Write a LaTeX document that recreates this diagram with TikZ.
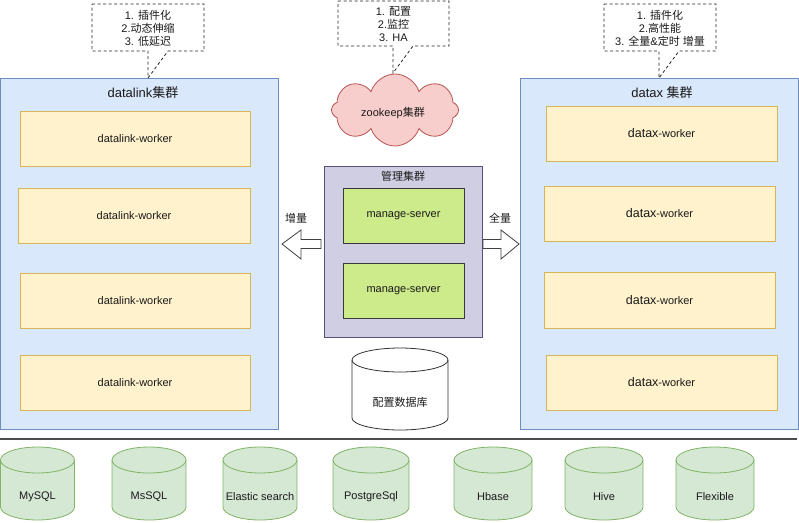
\documentclass[tikz,border=0pt]{standalone}
\usepackage{fontspec}
\setmainfont{Liberation Sans}
\newfontfamily\cjk{Noto Sans CJK SC}
\newcommand{\zh}[1]{{\cjk #1}}
\usetikzlibrary{shapes.symbols}
\definecolor{panelfill}{HTML}{DAE8FC}
\definecolor{panelline}{HTML}{6C8EBF}
\definecolor{workfill}{HTML}{FFF2CC}
\definecolor{workline}{HTML}{D6B656}
\definecolor{mgmtfill}{HTML}{D0CEE2}
\definecolor{mgmtline}{HTML}{56517E}
\definecolor{msfill}{HTML}{CDEB8B}
\definecolor{msline}{HTML}{36393D}
\definecolor{dbfill}{HTML}{D5E8D4}
\definecolor{dbline}{HTML}{82B366}
\definecolor{cloudfill}{HTML}{F8CECC}
\definecolor{cloudline}{HTML}{B85450}
\definecolor{txt}{HTML}{1A1A1A}
\newcommand{\mycyl}[7]{%
  % #1 cx, #2 top, #3 bottom, #4 rx, #5 ry, #6 fill, #7 line
  \path[fill=#6,draw=#7,line width=0.8pt]
    ({#1-#4},{#2+#5}) -- ({#1-#4},{#3-#5})
    arc[start angle=180,end angle=360,x radius=#4pt,y radius=#5pt]
    -- ({#1+#4},{#2+#5})
    arc[start angle=0,end angle=180,x radius=#4pt,y radius=#5pt] -- cycle;
  \draw[draw=#7,line width=0.8pt] ({#1-#4},{#2+#5})
    arc[start angle=180,end angle=360,x radius=#4pt,y radius=#5pt];
}
\tikzset{
  x=1pt,y=-1pt,
  every node/.style={text=txt,font=\fontsize{11pt}{13pt}\selectfont,inner sep=0pt},
  panel/.style={draw=panelline,fill=panelfill,line width=0.8pt,minimum width=278pt,minimum height=351pt},
  worker/.style={draw=workline,fill=workfill,line width=0.8pt,minimum height=55pt},
  mgmt/.style={draw=mgmtline,fill=mgmtfill,line width=0.8pt,minimum width=158pt,minimum height=171pt},
  server/.style={draw=msline,fill=msfill,line width=0.8pt,minimum width=121pt,minimum height=55pt},
  note/.style={draw=black!85,fill=white,dashed,dash pattern=on 3pt off 2.5pt,line width=0.8pt},
  bigarrow/.style={draw=black!75,fill=white,line width=0.8pt,line join=miter},
  ttl/.style={font=\fontsize{13pt}{15pt}\selectfont},
}
\begin{document}
\begin{tikzpicture}
\useasboundingbox (0,0) rectangle (799,522);

% left panel
\node[panel] (dl) at (139,253.5) {};
\node[ttl] (dlt) at (143,93) {datalink\zh{集群}};
\node[worker,minimum width=230pt] (lw1) at (135,138.5) {datalink-worker};
\node[worker,minimum width=232pt] (lw2) at (134,215.5) {datalink-worker};
\node[worker,minimum width=230pt] (lw3) at (135,300.5) {datalink-worker};
\node[worker,minimum width=230pt] (lw4) at (135,382.5) {datalink-worker};

% right panel
\node[panel] (dx) at (659,253.5) {};
\node[ttl] (dxt) at (662,93) {datax \zh{集群}};
\node[worker,minimum width=231pt] (rw1) at (661.5,133.5) {{\fontsize{12.5pt}{14pt}\selectfont datax}-worker};
\node[worker,minimum width=231pt] (rw2) at (659.5,213.5) {{\fontsize{12.5pt}{14pt}\selectfont datax}-worker};
\node[worker,minimum width=231pt,minimum height=56pt] (rw3) at (659.5,300) {{\fontsize{12.5pt}{14pt}\selectfont datax}-worker};
\node[worker,minimum width=231pt] (rw4) at (661.5,382.5) {{\fontsize{12.5pt}{14pt}\selectfont datax}-worker};

% management cluster
\node[mgmt] (mg) at (403,251.5) {};
\node (mgt) at (403,176) {\zh{管理集群}};
\node[server] (ms1) at (403.5,215.5) {manage-server};
\node[server] (ms2) at (403.5,290.5) {manage-server};

% block arrows
\draw[bigarrow] (282,244) -- (301,230) -- (301,239.5) -- (321,239.5) -- (321,248.5) -- (301,248.5) -- (301,259) -- cycle;
\draw[bigarrow] (519,244) -- (501,230) -- (501,239.5) -- (483,239.5) -- (483,248.5) -- (501,248.5) -- (501,259) -- cycle;
\node (inc) at (296,218) {\zh{增量}};
\node (full) at (500,218) {\zh{全量}};

% zookeeper cloud
\node[cloud,cloud puffs=8,cloud puff arc=145,aspect=1.8,draw=cloudline,fill=cloudfill,line width=0.8pt,minimum width=127pt,minimum height=72pt] (zk) at (395,110) {};
\node (zkt) at (393,113) {zookeep\zh{集群}};

% config db
\mycyl{400}{348}{430}{48}{12}{white}{black!80}
\node (cfg) at (400,402) {\zh{配置数据库}};

% callouts
\coordinate (c1) at (148,78);
\draw[note] (92,4) -- (204,4) -- (204,51) -- (168,51) -- (c1) -- (148,51) -- (92,51) -- cycle;
\node[align=center] (n1) at (148,28) {1. \zh{插件化}\\2.\zh{动态伸缩}\\3. \zh{低延迟}};

\coordinate (c2) at (393,73);
\draw[note] (338,1) -- (449,1) -- (449,46) -- (413,46) -- (c2) -- (393,46) -- (338,46) -- cycle;
\node[align=center] (n2) at (393.5,24) {1. \zh{配置}\\2.\zh{监控}\\3. HA};

\coordinate (c3) at (659,78);
\draw[note] (604,4) -- (716,4) -- (716,51) -- (679,51) -- (c3) -- (659,51) -- (604,51) -- cycle;
\node[align=center] (n3) at (660,28) {1. \zh{插件化}\\2.\zh{高性能}\\3. \zh{全量}\&\zh{定时} \zh{增量}};

% separator
\coordinate (s1) at (0,439);
\coordinate (s2) at (797,439);
\draw[draw=black!70,line width=1.5pt] (s1) -- (s2);

% data sources
\mycyl{37.5}{447}{520}{37}{13}{dbfill}{dbline}
\node (d1) at (37.5,497) {MySQL};
\mycyl{149}{447}{520}{37}{13}{dbfill}{dbline}
\node (d2) at (149,497) {MsSQL};
\mycyl{260}{447}{520}{37}{13}{dbfill}{dbline}
\node (d3) at (260,497) {Elastic search};
\mycyl{371}{447}{520}{38}{13}{dbfill}{dbline}
\node (d4) at (371,497) {PostgreSql};
\mycyl{493}{447}{520}{39}{13}{dbfill}{dbline}
\node (d5) at (493,497) {Hbase};
\mycyl{604}{447}{520}{39}{13}{dbfill}{dbline}
\node (d6) at (604,497) {Hive};
\mycyl{715}{447}{520}{39}{13}{dbfill}{dbline}
\node (d7) at (715,497) {Flexible};
\end{tikzpicture}
\end{document}
